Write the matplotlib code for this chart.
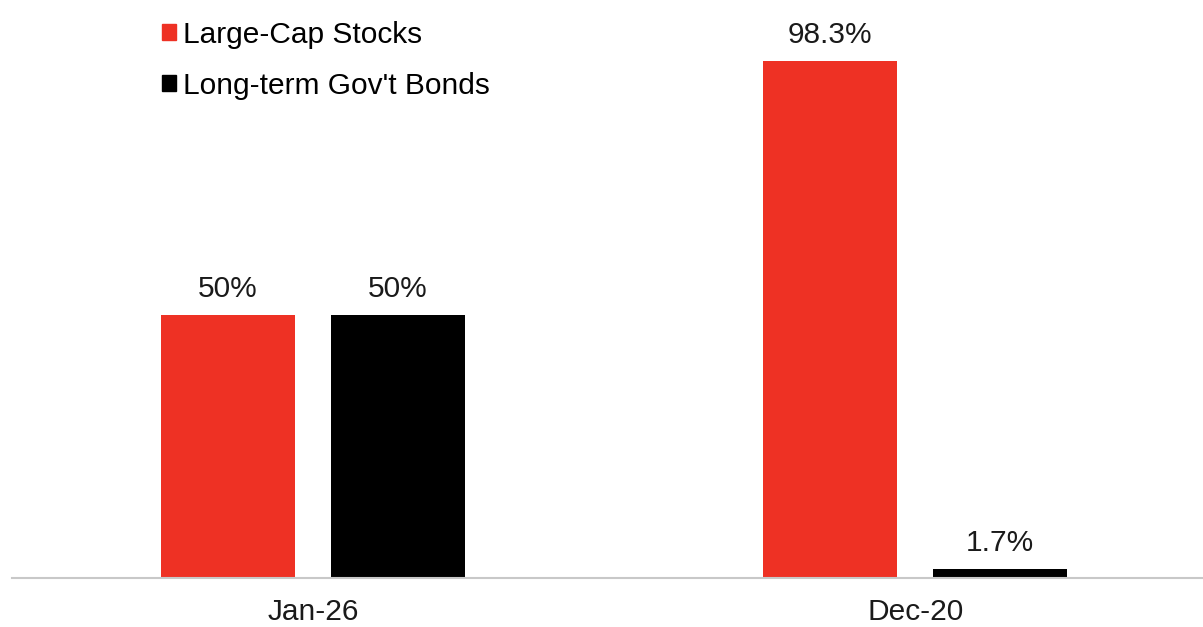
import numpy as np
import matplotlib.pyplot as plt
from matplotlib.patches import Patch

plt.rcParams['font.family'] = ['Liberation Sans', 'DejaVu Sans']

periods = ['Jan-26', 'Dec-20']
series_names = ["Large-Cap Stocks", "Long-term Gov't Bonds"]
stocks = [50.0, 98.3]
bonds = [50.0, 1.7]
value_labels = [['50%', '98.3%'], ['50%', '1.7%']]

colors = ['#EE3124', '#000000']
text_color = '#1a1a1a'
fs = 21.5

fig = plt.figure(figsize=(12.03, 6.27), dpi=100)
ax = fig.add_axes([0.01, 0.0781, 0.99, 0.922])

x = np.arange(len(periods))
width = 0.223
offset = 0.141

for vals, labels, sign, color in zip([stocks, bonds], value_labels, [-1, 1], colors):
    bars = ax.bar(x + sign * offset, vals, width, color=color)
    for b, lab in zip(bars, labels):
        ax.annotate(lab, (b.get_x() + b.get_width() / 2, b.get_height()),
                    xytext=(0, 13), textcoords='offset points',
                    ha='center', va='baseline', fontsize=fs, color=text_color)

ax.set_xlim(-0.5, 1.478)
ax.set_ylim(0, 110)
ax.set_xticks(x)
ax.set_xticklabels(periods, fontsize=fs, color=text_color)
ax.tick_params(axis='x', length=0, pad=14.5)
ax.set_yticks([])
for side in ['top', 'right', 'left']:
    ax.spines[side].set_visible(False)
ax.spines['bottom'].set_color('#c8c8c8')
ax.spines['bottom'].set_linewidth(1.5)

handles = [Patch(color=c) for c in colors]
ax.legend(handles, series_names, loc='upper left', bbox_to_anchor=(0.108, 1.0),
          frameon=False, fontsize=fs, handlelength=0.47, handleheight=0.47,
          handletextpad=0.25, labelspacing=0.76, borderaxespad=0.3)

fig.savefig('out.png', dpi=100)
